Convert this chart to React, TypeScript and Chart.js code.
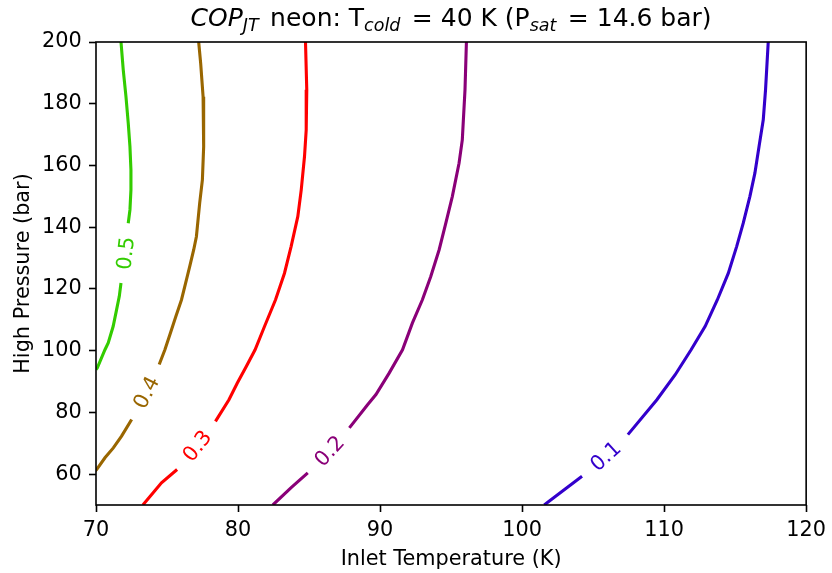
import React, { useEffect, useRef } from "react";
import { Chart, registerables } from "chart.js";

Chart.register(...registerables);

// ---- data (Inlet temperature K, high pressure bar) ----
const levelLabels = ["0.1", "0.2", "0.3", "0.4", "0.5"];
const levelColors = ["#3300cc", "#8a0078", "#ff0000", "#996600", "#33cc00"];

const c01Upper = [[117.33, 200], [117.14, 184.5], [116.98, 174.8], [116.68, 166.1], [116.39, 157.5], [116.04, 150], [115.57, 141.3], [115.11, 133.8], [114.52, 125.1], [113.75, 116.5], [112.89, 107.9], [111.9, 100.3], [110.78, 92.2], [109.49, 84.1], [107.45, 72.8]];
const c01Lower = [[104.22, 59.3], [101.76, 50.7], [101.56, 50]];

const c02Upper = [[96.08, 200], [95.98, 184.5], [95.79, 168.3], [95.56, 160.7], [95.09, 150], [94.63, 141.3], [94.16, 132.7], [93.57, 124], [92.98, 116.5], [92.28, 109], [91.58, 100.3], [90.65, 92.8], [89.71, 85.8], [89.12, 82.5], [87.84, 75]];
const c02Lower = [[84.91, 60.4], [83.74, 55.6], [82.45, 50]];

const c03Upper = [[84.75, 200], [84.84, 184.5], [84.8, 171.5], [84.68, 162.9], [84.45, 152.1], [84.21, 143.5], [83.74, 133.8], [83.27, 125.1], [82.64, 116.5], [81.87, 107.9], [81.2, 100.3], [80.58, 94.9], [79.95, 89.5], [79.36, 84.1], [78.41, 77.1]];
const c03Lower = [[75.71, 61.5], [74.61, 57.2], [73.3, 50]];

const c04Upper = [[77.23, 200], [77.37, 193.1], [77.54, 182.3], [77.58, 166.1], [77.49, 155.3], [77.3, 147.8], [77.07, 137], [76.88, 132.7], [76.6, 127.3], [76.37, 123], [76.02, 116.5], [75.62, 111.1], [75.24, 105.7], [74.85, 100.3], [74.45, 95.5]];
const c04Lower = [[72.51, 77.7], [71.8, 72.3], [71.22, 68.5], [70.63, 65.3], [70.05, 61.5], [70, 61.3]];

const c05Upper = [[71.76, 200], [71.92, 190.9], [72.11, 182.3], [72.27, 173.7], [72.39, 166.1], [72.46, 158.6], [72.46, 152.1], [72.39, 145.6], [72.27, 141.3]];
const c05Lower = [[71.76, 121.9], [71.64, 117.6], [71.45, 113.3], [71.21, 107.9], [70.86, 102.5], [70.63, 100.3], [70.09, 94.4], [70, 93.9]];

const contourUpper = [c01Upper, c02Upper, c03Upper, c04Upper, c05Upper];
const contourLower = [c01Lower, c02Lower, c03Lower, c04Lower, c05Lower];

const xTickValues = [70, 80, 90, 100, 110, 120];
const yTickValues = [60, 80, 100, 120, 140, 160, 180, 200];

const xLabel = "Inlet Temperature (K)";
const yLabel = "High Pressure (bar)";
const titleParts = [
  { t: "COP", italic: true, sub: false },
  { t: "JT", italic: true, sub: true },
  { t: " neon: T", italic: false, sub: false },
  { t: "cold", italic: true, sub: true },
  { t: " = 40 K (P", italic: false, sub: false },
  { t: "sat", italic: true, sub: true },
  { t: " = 14.6 bar)", italic: false, sub: false },
];

const FONT = "'DejaVu Sans', sans-serif";
const TICK_SIZE = 20.8;
const TITLE_SIZE = 25;

const decorPlugin = {
  id: "decor",
  afterDatasetsDraw(chart: any) {
    const ctx = chart.ctx;
    const area = chart.chartArea;
    const xs = chart.scales.x;
    const ys = chart.scales.y;
    ctx.save();
    // contour labels
    for (let i = 0; i < levelLabels.length; i++) {
      const up = contourUpper[i];
      const lo = contourLower[i];
      const a = up[up.length - 1];
      const b = lo[0];
      const ax = xs.getPixelForValue(a[0]);
      const ay = ys.getPixelForValue(a[1]);
      const bx = xs.getPixelForValue(b[0]);
      const by = ys.getPixelForValue(b[1]);
      let ang = Math.atan2(by - ay, bx - ax);
      if (ang > Math.PI / 2) ang -= Math.PI;
      if (ang < -Math.PI / 2) ang += Math.PI;
      ctx.save();
      ctx.translate((ax + bx) / 2, (ay + by) / 2);
      ctx.rotate(ang);
      ctx.font = `${TICK_SIZE}px ${FONT}`;
      ctx.fillStyle = levelColors[i];
      ctx.textAlign = "center";
      ctx.textBaseline = "alphabetic";
      ctx.fillText(levelLabels[i], 0, (0.729 * TICK_SIZE) / 2);
      ctx.restore();
    }
    // frame
    ctx.strokeStyle = "#000";
    ctx.lineWidth = 1.6;
    ctx.strokeRect(area.left, area.top, area.right - area.left, area.bottom - area.top);
    ctx.restore();
  },
  afterDraw(chart: any) {
    const ctx = chart.ctx;
    const area = chart.chartArea;
    const cx = (area.left + area.right) / 2;
    const cy = (area.top + area.bottom) / 2;
    ctx.save();
    ctx.fillStyle = "#000";
    // axis labels
    ctx.font = `${TICK_SIZE}px ${FONT}`;
    ctx.textAlign = "center";
    ctx.textBaseline = "alphabetic";
    ctx.fillText(xLabel, cx, 565);
    ctx.save();
    ctx.translate(28.5, cy);
    ctx.rotate(-Math.PI / 2);
    ctx.fillText(yLabel, 0, 0);
    ctx.restore();
    // title with italic subscripts
    const subSize = TITLE_SIZE * 0.7;
    const fontFor = (p: any) => `${p.italic ? "italic " : ""}${p.sub ? subSize : TITLE_SIZE}px ${FONT}`;
    let total = 0;
    const widths: number[] = [];
    for (const p of titleParts) {
      ctx.font = fontFor(p);
      const w = ctx.measureText(p.t).width + (p.sub ? 3.5 : 0);
      widths.push(w);
      total += w;
    }
    let x = cx - total / 2;
    ctx.textAlign = "left";
    titleParts.forEach((p, k) => {
      ctx.font = fontFor(p);
      ctx.fillText(p.t, x, 26 + (p.sub ? 5 : 0));
      x += widths[k];
    });
    ctx.restore();
  },
};

export default function App() {
  const ref = useRef<HTMLCanvasElement | null>(null);
  useEffect(() => {
    if (!ref.current) return;
    const datasets: any[] = [];
    for (let i = 0; i < levelLabels.length; i++) {
      for (const seg of [contourUpper[i], contourLower[i]]) {
        datasets.push({
          label: levelLabels[i],
          data: seg.map((p) => ({ x: p[0], y: p[1] })),
          showLine: true,
          borderColor: levelColors[i],
          backgroundColor: levelColors[i],
          borderWidth: 3.1,
          pointRadius: 0,
          pointHoverRadius: 0,
          fill: false,
          tension: 0,
        });
      }
    }
    const tickFont = { family: FONT, size: TICK_SIZE };
    const chart = new Chart(ref.current, {
      type: "scatter",
      data: { datasets },
      options: {
        animation: false,
        responsive: false,
        devicePixelRatio: 1,
        events: [],
        layout: { padding: { left: 0, top: 42, right: 24, bottom: 0 } },
        plugins: { legend: { display: false }, tooltip: { enabled: false }, title: { display: false } },
        scales: {
          x: {
            type: "linear",
            min: 70,
            max: 120,
            afterBuildTicks: (s: any) => {
              s.ticks = xTickValues.map((v) => ({ value: v }));
            },
            afterFit: (s: any) => {
              s.height = 68;
            },
            grid: { drawOnChartArea: false, drawTicks: true, tickLength: 7, tickColor: "#000", tickWidth: 1.6 },
            border: { display: false },
            ticks: { autoSkip: false, maxRotation: 0, color: "#000", font: tickFont, padding: 6, callback: (v: any) => String(v) },
          },
          y: {
            type: "linear",
            min: 50,
            max: 200,
            afterBuildTicks: (s: any) => {
              s.ticks = yTickValues.map((v) => ({ value: v }));
            },
            afterFit: (s: any) => {
              s.width = 96;
            },
            grid: { drawOnChartArea: false, drawTicks: true, tickLength: 7, tickColor: "#000", tickWidth: 1.6 },
            border: { display: false },
            ticks: { autoSkip: false, color: "#000", font: tickFont, padding: 7.3, callback: (v: any) => String(v) },
          },
        },
      },
      plugins: [decorPlugin],
    } as any);
    return () => chart.destroy();
  }, []);
  return (
    <div style={{ position: "fixed", left: 0, top: 0, width: 832, height: 573, background: "#fff" }}>
      <canvas ref={ref} width={832} height={573} style={{ display: "block" }} />
    </div>
  );
}
